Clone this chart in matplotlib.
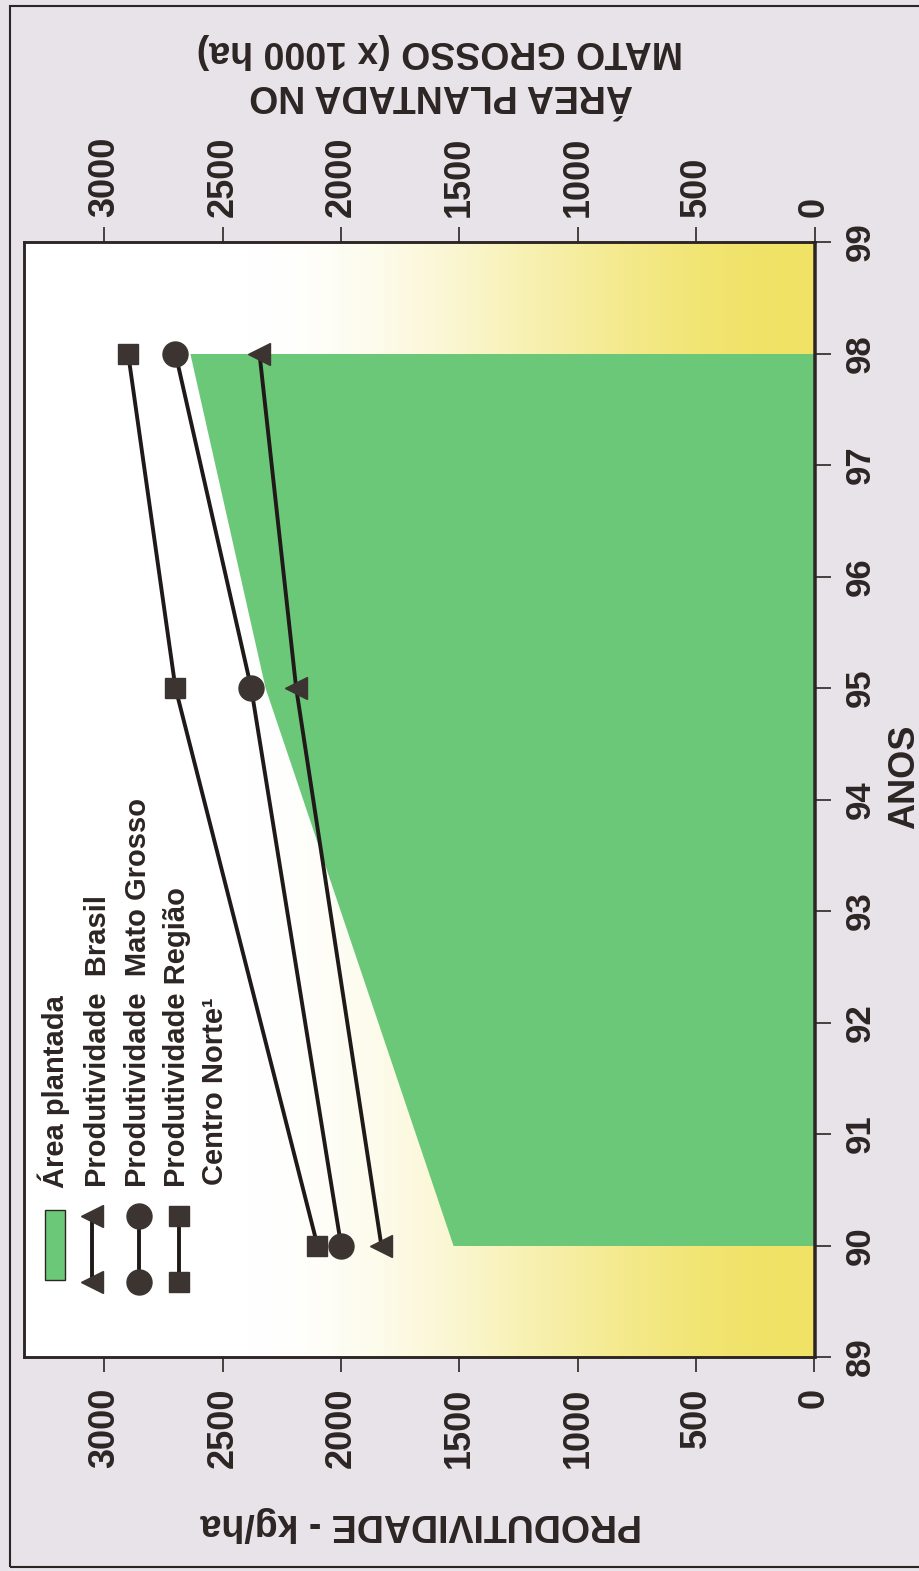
import numpy as np
import matplotlib
matplotlib.use("Agg")
import matplotlib.pyplot as plt
from matplotlib.lines import Line2D
from matplotlib.patches import Rectangle

# ---- data -----------------------------------------------------------------
anos = [90, 95, 98]
area_plantada = [1527, 2321, 2639]          # x 1000 ha
prod_brasil = [1830, 2190, 2345]            # kg/ha
prod_mato_grosso = [2000, 2380, 2700]       # kg/ha
prod_centro_norte = [2100, 2700, 2900]      # kg/ha

ticks_valor = [0, 500, 1000, 1500, 2000, 2500, 3000]
ticks_anos = list(range(89, 100))

legenda = ["Área plantada", "Produtividade  Brasil",
           "Produtividade  Mato Grosso", "Produtividade Região",
           "Centro Norte\u00b9"]

# ---- style ------------------------------------------------------------------
plt.rcParams["font.family"] = ["Liberation Sans", "DejaVu Sans"]
plt.rcParams["font.weight"] = "bold"

BG = "#e7e3e9"
INK = "#2c2523"
MARK = "#3b3431"
GREEN = "#6cc879"
YELLOW = np.array([240, 226, 100]) / 255.0

W, H = 920, 1571
fig = plt.figure(figsize=(W / 100, H / 100), dpi=100, facecolor=BG)


def fx(px):
    return px / W


def fy(py):
    return 1 - py / H


# the chart is laid out turned a quarter turn: years run upward,
# values grow toward the left
XMAX = 3342
ax = fig.add_axes([fx(23.5), fy(1357), (814.5 - 23.5) / W, (1357 - 242) / H])

# yellow-to-white background gradient along the value axis
gx = np.linspace(0, XMAX, 800)
s = np.clip(1 - gx / 2400.0, 0, 1)
t = s * s * (3 - 2 * s)
cols = (1 - t[:, None]) * np.ones(3)[None, :] + t[:, None] * YELLOW[None, :]
ax.imshow(cols[None, :, :], extent=(0, XMAX, 89, 99), aspect="auto",
          origin="lower", interpolation="bilinear", zorder=0)

ax.fill_betweenx(anos, 0, area_plantada, color=GREEN, lw=0, zorder=1)

line_kw = dict(color="#1f1a19", lw=2.8, mfc=MARK, mec=MARK, zorder=3,
               clip_on=False)
ax.plot(prod_brasil, anos, marker="<", ms=16, **line_kw)
ax.plot(prod_mato_grosso, anos, marker="o", ms=18, **line_kw)
ax.plot(prod_centro_norte, anos, marker="s", ms=15, **line_kw)

ax.set_xlim(XMAX, 0)
ax.set_ylim(89, 99)

for sp in ax.spines.values():
    sp.set_color(INK)
    sp.set_linewidth(1.8)

# productivity axis (bottom)
ax.set_xticks(ticks_valor)
ax.set_xticklabels([str(v) for v in ticks_valor], rotation=90)
ax.tick_params(axis="x", direction="out", length=11, width=1.2,
               labelsize=26, pad=11, colors=INK)

# years (right side)
ax.yaxis.tick_right()
ax.set_yticks(ticks_anos)
ax.set_yticklabels([str(a) for a in ticks_anos], rotation=90)
ax.tick_params(axis="y", direction="out", length=12, width=1.2,
               labelsize=25, pad=9, colors=INK)
for lab in ax.get_yticklabels():
    lab.set_va("center")

# planted-area axis (top)
ax2 = ax.twiny()
ax2.set_xlim(XMAX, 0)
ax2.set_xticks(ticks_valor)
ax2.set_xticklabels([str(v) for v in ticks_valor], rotation=90)
ax2.tick_params(axis="x", direction="out", length=11, width=1.2,
                labelsize=26, pad=7, colors=INK)
for sp in ax2.spines.values():
    sp.set_color(INK)
    sp.set_linewidth(1.8)

# axis titles
fig.text(fx(905), fy(777), "ANOS", rotation=90, ha="center", va="center",
         fontsize=26, color=INK)
fig.text(fx(441), fy(95), "ÁREA PLANTADA NO", rotation=180, ha="center",
         va="center", fontsize=27, color=INK)
fig.text(fx(440), fy(51), "MATO GROSSO (x 1000 ha)", rotation=180,
         ha="center", va="center", fontsize=27, color=INK)
fig.text(fx(421), fy(1524), "PRODUTIVIDADE - kg/ha", rotation=180,
         ha="center", va="center", fontsize=27, color=INK)

# legend, drawn turned like the rest of the chart
fig.add_artist(Rectangle((fx(45), fy(1280)), 20 / W, 70 / H,
                         transform=fig.transFigure, facecolor=GREEN,
                         edgecolor=INK, lw=1.0))
for xpx, mk, ms in [(92, "<", 16), (139, "o", 18), (179, "s", 15)]:
    fig.add_artist(Line2D([fx(xpx), fx(xpx)], [fy(1216), fy(1282)],
                          transform=fig.transFigure, color="#1f1a19",
                          lw=2.8, marker=mk, ms=ms, mfc=MARK, mec=MARK))

for base_x, start_y, txt in zip([64, 106.5, 146, 185, 223],
                                [1188, 1187, 1187, 1187, 1185], legenda):
    fig.text(fx(base_x), fy(start_y), txt, rotation=90,
             rotation_mode="anchor", ha="left", va="baseline",
             fontsize=21, color=INK)

# outer frame
fig.add_artist(Rectangle((fx(10), fy(1567)), (940 - 10) / W, (1567 - 6) / H,
                         transform=fig.transFigure, fill=False,
                         edgecolor=INK, lw=1.5))

fig.savefig("out.png", dpi=100, facecolor=BG)
